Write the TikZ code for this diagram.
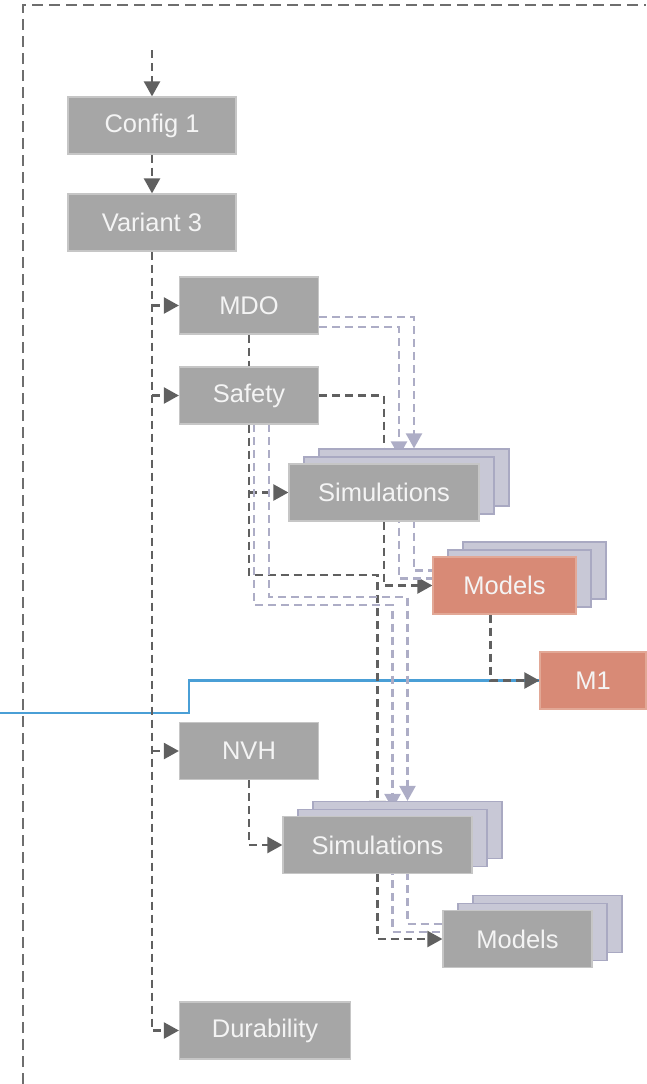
\documentclass[tikz,border=0pt]{standalone}
\usepackage{fontspec}
\setmainfont{Liberation Sans}
\usetikzlibrary{arrows.meta,calc}
\definecolor{boxgray}{HTML}{A6A6A6}
\definecolor{boxedge}{HTML}{C6C6C6}
\definecolor{boxtext}{HTML}{F4F4F4}
\definecolor{salmon}{HTML}{D88A76}
\definecolor{salmonedge}{HTML}{E2A896}
\definecolor{layerfill}{HTML}{C8C8D6}
\definecolor{layeredge}{HTML}{A9A9C2}
\definecolor{darkline}{HTML}{606060}
\definecolor{lightline}{HTML}{ADADC6}
\definecolor{bluewire}{HTML}{4A9FD6}
\definecolor{framegray}{HTML}{6E6E6E}
\pgfdeclarelayer{bg}
\pgfsetlayers{bg,main}
\begin{document}
\begin{tikzpicture}[x=1pt,y=-1pt,
  box/.style={draw=boxedge, line width=1.2pt, fill=boxgray, minimum height=57pt,
    inner sep=0pt, text=boxtext, font=\fontsize{25.5}{30}\selectfont},
  hot/.style={box, fill=salmon, draw=salmonedge},
  layer/.style={draw=layeredge, fill=layerfill, line width=1.2pt,
    minimum height=57pt, inner sep=0pt},
  dk/.style={draw=darkline, line width=2.3pt, dash pattern=on 8pt off 5pt,
    -{Triangle[length=15pt,width=16pt]}},
  lt/.style={draw=lightline, line width=2.3pt, dash pattern=on 8pt off 5pt,
    -{Triangle[length=15pt,width=16pt]}},
  wire/.style={draw=bluewire, line width=2.2pt},
  frame/.style={draw=framegray, line width=1.6pt, dash pattern=on 11pt off 6pt}]
\useasboundingbox (0,0) rectangle (646,1084);

% outer frame
\draw[frame] (23,1084) -- (23,5) -- (646,5);

% stack centres
\coordinate (pS1) at (384,492.5);
\coordinate (pM1) at (504.5,585.5);
\coordinate (pS2) at (377.5,845);
\coordinate (pM2) at (517.5,939);

% plain boxes
\node[box, minimum width=168pt] (config) at (152,125.5) {Config 1};
\node[box, minimum width=168pt] (variant) at (152,222.5) {Variant 3};
\node[box, minimum width=139pt] (mdo) at (249,305.5) {MDO};
\node[box, minimum width=139pt] (safety) at (249,395.5) {Safety};
\node[box, minimum width=139pt] (nvh) at (249,751) {NVH};
\node[box, minimum width=171pt] (dur) at (265,1030.5) {Durability};
\node[hot, minimum width=106pt] (mone) at (593,680.5) {M1};

% stacked boxes
\node[layer, minimum width=190pt] (simAc) at ($(pS1)+(30,-15)$) {};
\node[layer, minimum width=190pt] (simAb) at ($(pS1)+(15,-7)$) {};
\node[box, minimum width=190pt] (simA) at (pS1) {Simulations};

\node[layer, minimum width=143pt] (modAc) at ($(pM1)+(30,-15)$) {};
\node[layer, minimum width=143pt] (modAb) at ($(pM1)+(15,-7)$) {};
\node[hot, minimum width=143pt] (modA) at (pM1) {Models};

\node[layer, minimum width=189pt] (simBc) at ($(pS2)+(30,-15)$) {};
\node[layer, minimum width=189pt] (simBb) at ($(pS2)+(15,-7)$) {};
\node[box, minimum width=189pt] (simB) at (pS2) {Simulations};

\node[layer, minimum width=149pt] (modBc) at ($(pM2)+(30,-15)$) {};
\node[layer, minimum width=149pt] (modBb) at ($(pM2)+(15,-7)$) {};
\node[box, minimum width=149pt] (modB) at (pM2) {Models};

% free ends and bends
\coordinate (start) at (152,50);
\coordinate (wireL) at (0,713);
\coordinate (wireK) at (189,713);
\coordinate (safeBend) at (377.5,575);
\coordinate (ltA) at (254,424);
\coordinate (ltB) at (269,424);
\coordinate (ltAb) at (392.5,605);
\coordinate (ltBb) at (407.5,597);

\begin{pgfonlayer}{bg}
  % blue wire to M1
  \draw[wire] (wireL) -- (wireK) |- (mone.west);

  % main chain
  \draw[dk] (start) -- (config.north);
  \draw[dk] (config.south) -- (variant.north);
  \draw[dk] (variant.south) |- (dur.west);
  \draw[dk] (variant.south |- mdo.west) -- (mdo.west);
  \draw[dk] (variant.south |- safety.west) -- (safety.west);
  \draw[dk] (variant.south |- nvh.west) -- (nvh.west);

  % MDO and Safety
  \draw[dk,-] (mdo.south) -- (safety.north);
  \draw[lt] ($(mdo.east)+(0,11.5)$) -| (simAc.north);
  \draw[lt] ($(mdo.east)+(0,21.5)$) -| (simAb.north);
  \draw[dk] (safety.east) -| (simA.north);
  \draw[dk] (safety.south |- simA.west) -- (simA.west);
  \draw[dk] (safety.south) |- (safeBend) -- (simB.north);
  \draw[lt] (ltA) |- (ltAb) -- (simBb.north);
  \draw[lt] (ltB) |- (ltBb) -- (simBc.north);

  % first simulations to models
  \draw[dk] (simA.south) |- (modA.west);
  \draw[lt] (simAb.south) |- (modAb.west);
  \draw[lt] (simAc.south) |- (modAc.west);
  \draw[dk] ($(modA.south)+(-14,0)$) |- (mone.west);

  % NVH branch
  \draw[dk] (nvh.south) |- (simB.west);
  \draw[dk] (simB.south) |- (modB.west);
  \draw[lt] (simBb.south) |- (modBb.west);
  \draw[lt] (simBc.south) |- (modBc.west);
\end{pgfonlayer}
\end{tikzpicture}
\end{document}
